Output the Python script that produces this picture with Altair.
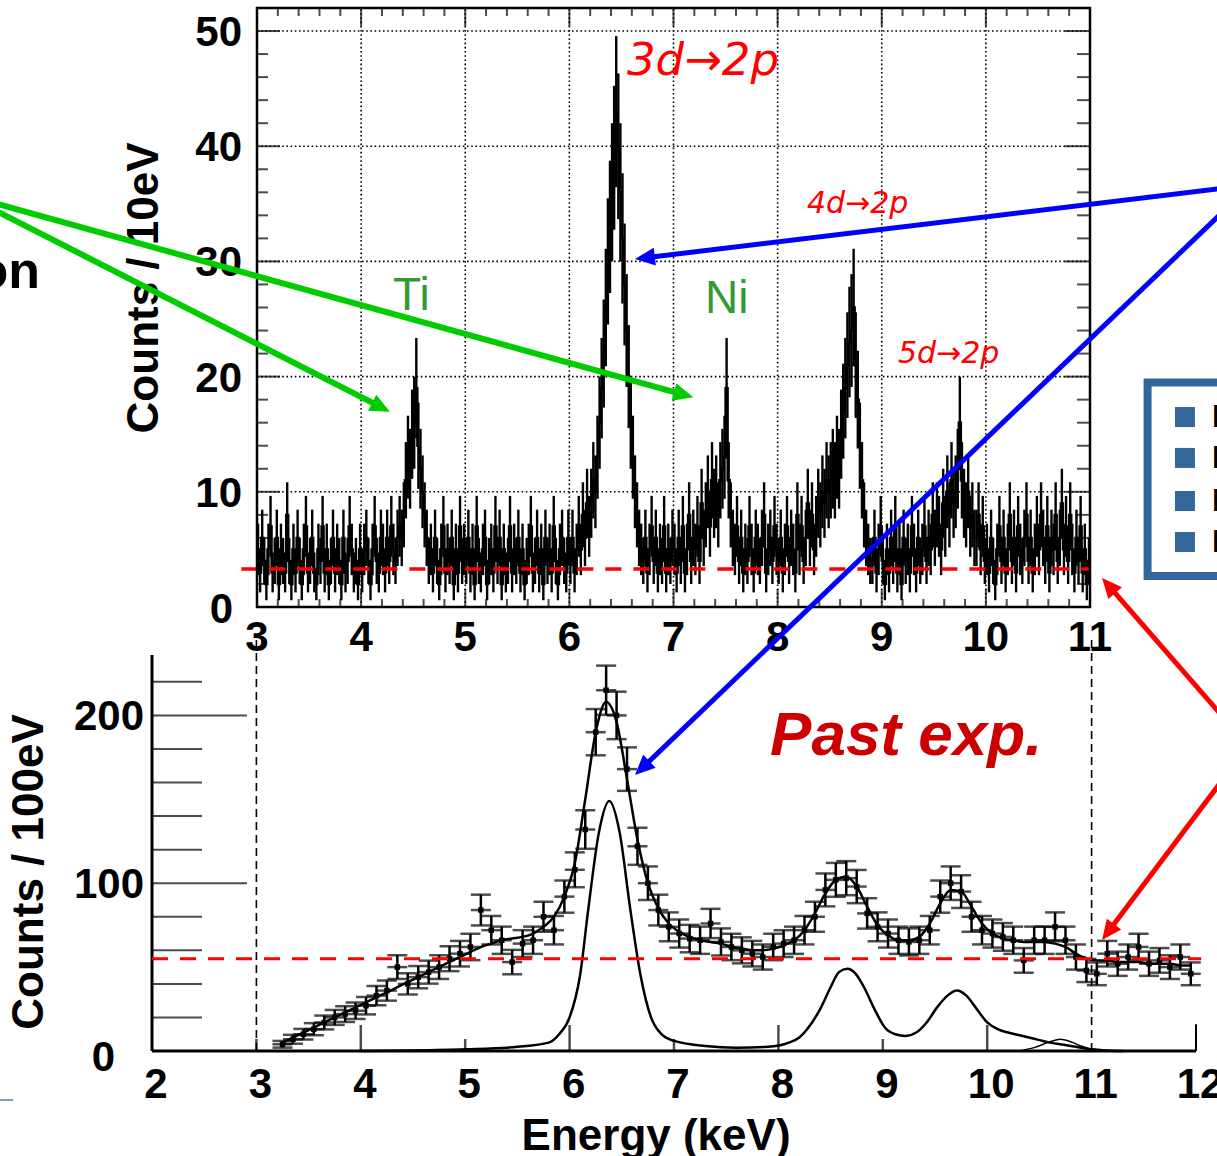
import math
import altair as alt
import pandas as pd

FONT = "Liberation Sans"
FONT_ARROW = "DejaVu Sans"

# ---------------- top panel: spectrum (counts / 10 eV), read every 20 eV from 3 keV ----------------
top_e0 = 3.0
top_de = 0.02
top_counts = [
    5,3,6,4,2, 5,7,3,4,6, 2,5,4,3,8, 4,2,5,3,6, 4,2,5,7,3,
    4,6,3,2,5, 4,7,3,5,2, 4,6,3,5,4, 2,6,3,4,7, 5,3,4,2,5,
    3,5,6,4,2, 5,7,4,3,6, 5,3,6,4,7, 5,4,6,7,6, 8,11,13,12,15,
    16,19,14,12,10, 8,6,4,5,3, 6,4,2,5,7, 3,5,4,6,2, 5,3,7,4,5,
    4,6,3,5,2, 7,4,3,5,6, 2,4,5,3,7, 4,6,2,5,3, 4,7,3,5,4,
    6,3,5,2,4, 5,7,3,4,6, 3,5,2,6,4, 5,3,7,4,2, 5,6,4,3,6,
    4,6,3,5,7, 5,8,6,9,7, 9,11,10,13,16, 19,22,26,30,33, 36,39,43,40,36,
    32,28,24,20,16, 13,10,8,6,5, 4,6,3,5,7, 4,6,3,5,4, 7,3,5,4,6,
    5,3,6,4,7, 3,5,8,4,6, 5,7,4,9,6, 8,10,7,11,9, 10,8,11,12,13,
    19,11,8,6,5, 7,4,6,3,5, 4,7,5,3,6, 5,4,6,8,3, 5,6,4,7,5,
    4,6,3,5,7, 4,6,5,3,8, 5,7,4,6,9, 6,8,5,7,9, 8,10,9,11,10,
    11,12,11,13,12, 15,17,19,21,23, 24,26,21,18,14, 11,8,6,5,4, 4,6,3,5,7,
    4,2,5,3,6, 4,7,3,5,2, 6,4,5,3,7, 5,3,6,4,5, 7,4,6,5,8,
    6,8,7,5,9, 7,10,8,11,9, 10,12,16,11,9, 8,10,7,8,6, 6,8,5,7,4,
    5,3,6,4,2, 5,7,4,6,3, 5,8,4,6,3, 7,5,4,6,8, 4,6,3,5,7,
    5,8,6,4,7, 3,6,5,8,4, 6,9,5,7,4, 8,5,3,6,4, 7,3,5,2,4,
]
top_x_ticks = [3, 4, 5, 6, 7, 8, 9, 10, 11]
top_y_ticks = [0, 10, 20, 30, 40, 50]
top_bg_level = 3.3

# ---------------- bottom panel: past experiment (counts / 100 eV) ----------------
bot_e0 = 3.25
bot_de = 0.1
bot_counts = [
    4, 7, 10, 13, 17, 20, 22, 24, 27, 33,
    36, 50, 40, 44, 47, 50, 55, 58, 62, 84,
    72, 66, 53, 64, 66, 80, 72, 92, 108, 132,
    190, 215, 200, 168, 122, 100, 84, 74, 70, 67,
    66, 76, 65, 62, 60, 58, 56, 62, 64, 66,
    72, 80, 96, 102, 103, 98, 82, 74, 70, 66,
    65, 66, 72, 92, 100, 95, 80, 72, 70, 68,
    66, 54, 66, 66, 74, 66, 56, 48, 46, 58,
    52, 56, 62, 52, 54, 50, 56, 46,
]
bot_fit = [
    5, 8, 11, 14, 17, 20, 23, 26, 29, 32,
    35, 38, 41, 44, 47, 50, 53, 56, 59, 62,
    64, 66, 67, 68, 70, 74, 80, 92, 112, 150,
    190, 208, 196, 162, 126, 100, 85, 76, 71, 68,
    66, 65, 64, 62, 61, 60, 60, 61, 63, 66,
    72, 82, 94, 102, 104, 98, 86, 75, 69, 66,
    66, 68, 76, 88, 96, 95, 86, 76, 70, 67,
    66, 65, 65, 65, 64, 62, 58, 55, 54, 54,
    53, 53, 53, 52, 52, 52, 51, 51,
]
comp_e = [4.0, 4.5, 5.0, 5.5, 5.8, 5.9, 6.0, 6.1, 6.18, 6.28, 6.38, 6.48, 6.58, 6.68, 6.78, 6.88,
          7.0, 7.3, 7.6, 7.9, 8.1, 8.2, 8.3, 8.4, 8.5, 8.58, 8.66, 8.74, 8.82, 8.92, 9.02, 9.12,
          9.22, 9.32, 9.42, 9.52, 9.62, 9.71, 9.8, 9.9, 10.0, 10.1, 10.2, 10.3, 10.4, 10.5, 10.6,
          10.7, 10.8, 10.9, 11.0, 11.1, 11.3]
comp_v = [0, 0.3, 1, 2.5, 5, 10, 20, 45, 85, 130, 149, 130, 85, 45, 20, 10,
          6, 3, 2, 2.5, 5, 8, 15, 25, 38, 47, 49, 46, 38, 25, 14, 10,
          9, 11, 17, 26, 33, 36, 33, 25, 17, 13, 11, 9.5, 8, 6.5, 5,
          4, 3, 2, 1, 0.5, 0]
small_e = [10.3, 10.45, 10.6, 10.7, 10.8, 10.9, 11.0, 11.15]
small_v = [0, 2, 5.5, 7, 5.5, 3, 1, 0]
bot_x_ticks = [2, 3, 4, 5, 6, 7, 8, 9, 10, 11, 12]
bot_y_major = [100, 200]
bot_y_minor = [20, 40, 60, 80, 120, 140, 160, 180, 220]
bot_bg_level = 55

# ---------------- scales (each panel placed on the page by its pixel range) ----------------
XT_DOM, XT_RNG = [3, 11], [257, 1090]
YT_DOM, YT_RNG = [0, 52], [607, 8]
XB_DOM, XB_RNG = [2, 12], [152, 1196]
YB_DOM, YB_RNG = [0, 236], [1051, 655]
XT = alt.Scale(domain=XT_DOM, range=XT_RNG, nice=False, zero=False)
YT = alt.Scale(domain=YT_DOM, range=YT_RNG, nice=False, zero=False)
XB = alt.Scale(domain=XB_DOM, range=XB_RNG, nice=False, zero=False)
YB = alt.Scale(domain=YB_DOM, range=YB_RNG, nice=False, zero=False)


def lin(dom, rng):
    a = (rng[1] - rng[0]) / (dom[1] - dom[0])
    return (lambda v: rng[0] + (v - dom[0]) * a), (lambda p: dom[0] + (p - rng[0]) / a)


tx_px, tx_inv = lin(XT_DOM, XT_RNG)
ty_px, ty_inv = lin(YT_DOM, YT_RNG)
bx_px, bx_inv = lin(XB_DOM, XB_RNG)
by_px, by_inv = lin(YB_DOM, YB_RNG)


def X(f, s):
    return alt.X(f, type="quantitative", scale=s, axis=None)


def Y(f, s):
    return alt.Y(f, type="quantitative", scale=s, axis=None)


def XD(v, s):
    return alt.XDatum(v, scale=s, axis=None)


def YD(v, s):
    return alt.YDatum(v, scale=s, axis=None)


ONE = pd.DataFrame({"k": [0]})
ARROW = "M0,0L-0.9,2L0.9,2Z"


def arrows(specs, fx, fy, ix, iy, head=15):
    lines, heads = [], []
    for (sx, sy), (tx, ty), color, w in specs:
        psx, psy, ptx, pty = fx(sx), fy(sy), fx(tx), fy(ty)
        dx, dy = ptx - psx, pty - psy
        L = math.hypot(dx, dy)
        ex, ey = ptx - dx / L * head, pty - dy / L * head
        lines.append(dict(x=sx, y=sy, x2=ix(ex), y2=iy(ey), color=color, w=w))
        heads.append(dict(tx=tx, ty=ty, ang=math.degrees(math.atan2(dx, -dy)) % 360, color=color))
    return pd.DataFrame(lines), pd.DataFrame(heads)


def arrow_layers(specs, fx, fy, ix, iy, XS, YS):
    ldf, hdf = arrows(specs, fx, fy, ix, iy)
    line = alt.Chart(ldf).mark_rule(strokeCap="butt").encode(
        x=X("x", XS), y=Y("y", YS), x2="x2:Q", y2="y2:Q",
        color=alt.Color("color:N", scale=None),
        strokeWidth=alt.StrokeWidth("w:Q", scale=None))
    head = alt.Chart(hdf).mark_point(shape=ARROW, filled=True, size=400, opacity=1, strokeWidth=0).encode(
        x=X("tx", XS), y=Y("ty", YS),
        angle=alt.Angle("ang:Q", scale=None),
        color=alt.Color("color:N", scale=None))
    return [line, head]


def text_layer(df, XS, YS, font=FONT, **kw):
    return alt.Chart(df).mark_text(font=font, **kw).encode(
        x=X("x", XS), y=Y("y", YS), text="txt:N")


# ================= TOP PANEL =================
top_df = pd.DataFrame({"e": [top_e0 + i * top_de for i in range(len(top_counts))], "v": top_counts})
step_df = pd.concat([top_df, pd.DataFrame({"e": [top_e0 + len(top_counts) * top_de], "v": [top_counts[-1]]})])

top_layers = []
# dotted grid
top_layers.append(alt.Chart(pd.DataFrame({"t": top_x_ticks[1:-1]})).mark_rule(
    color="black", strokeWidth=1.6, strokeDash=[1.6, 2.6]).encode(
    x=X("t", XT), y=YD(0, YT), y2=alt.Y2Datum(52)))
top_layers.append(alt.Chart(pd.DataFrame({"t": top_y_ticks[1:]})).mark_rule(
    color="black", strokeWidth=1.6, strokeDash=[1.6, 2.6]).encode(
    y=Y("t", YT), x=XD(3, XT), x2=alt.X2Datum(11)))
# spectrum with error bars
top_layers.append(alt.Chart(top_df).transform_calculate(
    c=f"datum.e + {top_de / 2}", lo="datum.v - sqrt(datum.v)", hi="datum.v + sqrt(datum.v)").mark_rule(
    color="black", strokeWidth=2.4).encode(x=X("c:Q", XT), y=Y("lo:Q", YT), y2="hi:Q"))
top_layers.append(alt.Chart(step_df).mark_line(interpolate="step-after", color="black", strokeWidth=2.4).encode(
    x=X("e", XT), y=Y("v", YT)))
# background level
top_layers.append(alt.Chart(ONE).mark_rule(color="#ff0000", strokeWidth=3.5, strokeDash=[16, 12]).encode(
    x=XD(2.85, XT), x2=alt.X2Datum(11), y=YD(top_bg_level, YT)))
# frame
top_layers.append(alt.Chart(ONE).mark_rect(fillOpacity=0, stroke="black", strokeWidth=2.5).encode(
    x=XD(3, XT), x2=alt.X2Datum(11), y=YD(0, YT), y2=alt.Y2Datum(52)))
# ticks
top_minor_x = [round(3 + 0.2 * i, 1) for i in range(41) if i % 5 != 0]
top_minor_y = [v for v in range(2, 52, 2) if v % 10 != 0]
for vals, size in [(top_x_ticks, 18), (top_minor_x, 8)]:
    d = pd.DataFrame({"t": vals})
    top_layers.append(alt.Chart(d).mark_tick(orient="vertical", size=size, thickness=2, color="black",
                                             yOffset=size / 2).encode(x=X("t", XT), y=YD(52, YT)))
    top_layers.append(alt.Chart(d).mark_tick(orient="vertical", size=size, thickness=2, color="black",
                                             yOffset=-size / 2).encode(x=X("t", XT), y=YD(0, YT)))
for vals, sl, sr in [(top_y_ticks, 23, 25), (top_minor_y, 11, 13)]:
    d = pd.DataFrame({"t": vals})
    top_layers.append(alt.Chart(d).mark_tick(orient="horizontal", size=sl, thickness=2, color="black",
                                             xOffset=sl / 2).encode(y=Y("t", YT), x=XD(3, XT)))
    top_layers.append(alt.Chart(d).mark_tick(orient="horizontal", size=sr, thickness=2, color="black",
                                             xOffset=-sr / 2).encode(y=Y("t", YT), x=XD(11, XT)))
# tick labels
lab = dict(font=FONT, fontSize=42, fontWeight="bold", color="black")
top_layers.append(alt.Chart(pd.DataFrame({"t": top_x_ticks, "txt": [str(v) for v in top_x_ticks]})).mark_text(
    align="center", baseline="middle", dy=31, **lab).encode(x=X("t", XT), y=YD(0, YT), text="txt:N"))
top_layers.append(alt.Chart(pd.DataFrame({"t": top_y_ticks[1:], "txt": [str(v) for v in top_y_ticks[1:]]})).mark_text(
    align="right", baseline="middle", dx=-15, dy=2, **lab).encode(y=Y("t", YT), x=XD(3, XT), text="txt:N"))
top_layers.append(alt.Chart(pd.DataFrame({"t": [0], "txt": ["0"]})).mark_text(
    align="right", baseline="middle", dx=-24, dy=3, **lab).encode(y=Y("t", YT), x=XD(3, XT), text="txt:N"))
# axis title
top_layers.append(text_layer(pd.DataFrame({"x": [1.924], "y": [27.7], "txt": ["Counts / 10eV"]}), XT, YT,
                             fontSize=44, fontWeight="bold", angle=270, align="center", baseline="middle"))
# annotations
top_layers.append(text_layer(pd.DataFrame({"x": [6.553], "y": [46.2], "txt": ["3d\u21922p"]}), XT, YT,
                             font=FONT_ARROW, fontSize=45, fontStyle="italic", color="#ff0000",
                             align="left", baseline="alphabetic"))
top_layers.append(text_layer(pd.DataFrame({"x": [8.282, 9.156], "y": [34.2, 21.2],
                                           "txt": ["4d\u21922p", "5d\u21922p"]}), XT, YT,
                             font=FONT_ARROW, fontSize=30, fontStyle="italic", color="#ff0000",
                             align="left", baseline="alphabetic"))
top_layers.append(text_layer(pd.DataFrame({"x": [4.306, 7.302], "y": [25.8, 25.5], "txt": ["Ti", "Ni"]}), XT, YT,
                             fontSize=46, color="#339933", align="left", baseline="alphabetic"))
top_layers.append(text_layer(pd.DataFrame({"x": [0.916], "y": [27.7], "txt": ["ion"]}), XT, YT,
                             fontSize=52, fontWeight="bold", color="black", align="right", baseline="alphabetic"))
# side box of the slide
top_layers.append(alt.Chart(ONE).mark_rect(fillOpacity=0, stroke="#336699", strokeWidth=8).encode(
    x=XD(11.553, XT), x2=alt.X2Datum(12.8), y=YD(19.49, YT), y2=alt.Y2Datum(2.69)))
box_rows = pd.DataFrame({"x": [11.912] * 4, "y": [16.49, 12.94, 9.20, 5.64], "txt": ["I"] * 4})
top_layers.append(alt.Chart(box_rows).mark_point(shape="square", filled=True, size=400, opacity=1,
                                                 color="#336699").encode(x=X("x", XT), y=Y("y", YT)))
top_layers.append(alt.Chart(box_rows).mark_text(font=FONT, fontSize=32, fontWeight="bold", align="left",
                                                baseline="middle", dx=27, color="black").encode(
    x=X("x", XT), y=Y("y", YT), text="txt:N"))
# arrows (green to Ti / Ni, blue to 3d peak)
top_arrows = [
    ((0.196, 35.77), (4.277, 16.95), "#00cc00", 6),
    ((0.196, 35.77), (7.190, 18.2), "#00cc00", 6),
    ((12.345, 36.42), (6.630, 30.21), "#0000ff", 5),
]
top_layers += arrow_layers(top_arrows, tx_px, ty_px, tx_inv, ty_inv, XT, YT)

top = alt.layer(*top_layers)

# ================= BOTTOM PANEL =================
bot_df = pd.DataFrame({"e": [bot_e0 + i * bot_de for i in range(len(bot_counts))], "v": bot_counts,
                       "f": bot_fit})
bot_layers = []
# dashed verticals at 3 and 11 keV
bot_layers.append(alt.Chart(pd.DataFrame({"t": [3, 11]})).mark_rule(
    color="black", strokeWidth=1.6, strokeDash=[8, 5]).encode(x=X("t", XB), y=YD(0, YB), y2=alt.Y2Datum(246)))
# axes lines
bot_layers.append(alt.Chart(ONE).mark_rule(color="black", strokeWidth=3).encode(
    x=XD(2, XB), y=YD(0, YB), y2=alt.Y2Datum(236)))
bot_layers.append(alt.Chart(ONE).mark_rule(color="black", strokeWidth=3).encode(
    x=XD(2, XB), x2=alt.X2Datum(12), y=YD(0, YB)))
bot_layers.append(alt.Chart(ONE).mark_rule(color="black", strokeWidth=2).encode(
    x=XD(12, XB), y=YD(0, YB), y2=alt.Y2Datum(16)))
# axis ticks
for vals, size in [(bot_y_major, 95), (bot_y_minor, 50)]:
    bot_layers.append(alt.Chart(pd.DataFrame({"t": vals})).mark_tick(
        orient="horizontal", size=size, thickness=2, color="black", xOffset=size / 2).encode(
        y=Y("t", YB), x=XD(2, XB)))
for vals, size in [([4, 6, 8, 10], 26), ([3, 5, 7, 9], 12)]:
    bot_layers.append(alt.Chart(pd.DataFrame({"t": vals})).mark_tick(
        orient="vertical", size=size, thickness=2.5, color="black", yOffset=-size / 2).encode(
        x=X("t", XB), y=YD(0, YB)))
# component lines and fit
bot_layers.append(alt.Chart(pd.DataFrame({"e": comp_e, "v": comp_v})).mark_line(
    interpolate="monotone", color="black", strokeWidth=2.5).encode(x=X("e", XB), y=Y("v", YB)))
bot_layers.append(alt.Chart(pd.DataFrame({"e": small_e, "v": small_v})).mark_line(
    interpolate="monotone", color="black", strokeWidth=1.5).encode(x=X("e", XB), y=Y("v", YB)))
bot_layers.append(alt.Chart(bot_df).mark_line(interpolate="monotone", color="black", strokeWidth=2.5).encode(
    x=X("e", XB), y=Y("f", YB)))
# data points with error bars
errs = alt.Chart(bot_df).transform_calculate(lo="datum.v - sqrt(datum.v)", hi="datum.v + sqrt(datum.v)")
bot_layers.append(errs.mark_rule(color="black", strokeWidth=2.5).encode(
    x=X("e", XB), y=Y("lo:Q", YB), y2="hi:Q"))
for fld in ["lo:Q", "hi:Q", "v:Q"]:
    bot_layers.append(errs.mark_tick(orient="horizontal", size=20, thickness=2.5, color="black").encode(
        x=X("e", XB), y=Y(fld, YB)))
bot_layers.append(alt.Chart(bot_df).mark_point(shape="square", filled=True, size=30, opacity=1,
                                               color="black").encode(x=X("e", XB), y=Y("v", YB)))
# background level
bot_layers.append(alt.Chart(ONE).mark_rule(color="#ff0000", strokeWidth=3, strokeDash=[16, 12]).encode(
    x=XD(2, XB), x2=alt.X2Datum(12.05), y=YD(bot_bg_level, YB)))
# labels
bot_layers.append(alt.Chart(pd.DataFrame({"t": bot_x_ticks, "txt": [str(v) for v in bot_x_ticks]})).mark_text(
    align="center", baseline="middle", dx=4, dy=34, **lab).encode(x=X("t", XB), y=YD(0, YB), text="txt:N"))
bot_layers.append(alt.Chart(pd.DataFrame({"t": bot_y_major, "txt": [str(v) for v in bot_y_major]})).mark_text(
    align="right", baseline="middle", dx=-8, dy=2, **lab).encode(y=Y("t", YB), x=XD(2, XB), text="txt:N"))
bot_layers.append(alt.Chart(pd.DataFrame({"t": [0], "txt": ["0"]})).mark_text(
    align="right", baseline="middle", dx=-37, dy=7, **lab).encode(y=Y("t", YB), x=XD(2, XB), text="txt:N"))
bot_layers.append(text_layer(pd.DataFrame({"x": [0.831], "y": [106.7], "txt": ["Counts / 100eV"]}), XB, YB,
                             fontSize=44, fontWeight="bold", angle=270, align="center", baseline="middle"))
bot_layers.append(text_layer(pd.DataFrame({"x": [6.828], "y": [-59], "txt": ["Energy (keV)"]}), XB, YB,
                             fontSize=44, fontWeight="bold", align="center", baseline="alphabetic"))
bot_layers.append(text_layer(pd.DataFrame({"x": [7.92], "y": [176.4], "txt": ["Past exp."]}), XB, YB,
                             fontSize=62, fontWeight="bold", fontStyle="italic", color="#cc0000",
                             align="left", baseline="alphabetic"))
bot_layers.append(alt.Chart(ONE).mark_rule(color="#4f81bd", strokeWidth=1.5).encode(
    x=XD(0.54, XB), x2=alt.X2Datum(0.67), y=YD(-29.2, YB)))
# arrows (blue to past 3d peak, red to background levels)
bot_arrows = [
    ((12.326, 504.2), (6.626, 164.5), "#0000ff", 5),
    ((12.326, 194.3), (11.10, 281.9), "#ff0000", 5),
    ((12.326, 167.5), (11.10, 66.1), "#ff0000", 5),
]
bot_layers += arrow_layers(bot_arrows, bx_px, by_px, bx_inv, by_inv, XB, YB)

bottom = alt.layer(*bot_layers)

chart = alt.layer(top, bottom).resolve_scale(x="independent", y="independent").properties(
    width=1217, height=1156, autosize=alt.AutoSizeParams(type="none"), padding=0,
    background="white").configure_view(stroke=None)

chart.save("out.html", embed_options={"renderer": "svg", "actions": False})
